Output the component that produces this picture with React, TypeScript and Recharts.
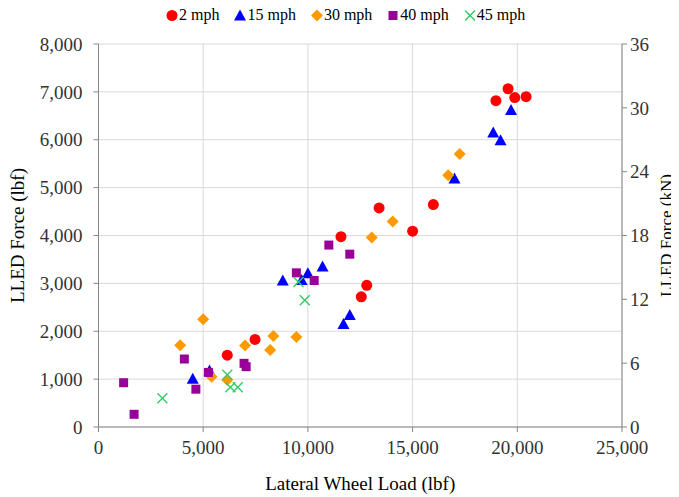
import React from 'react'
import { CartesianGrid, Scatter, ScatterChart, XAxis, YAxis } from 'recharts'

// series labels and colours
const seriesNames = ['2 mph', '15 mph', '30 mph', '40 mph', '45 mph']
const seriesColors = ['#FF0000', '#0000FF', '#FF9900', '#990099', '#33CC66']

// lateral wheel load (lbf) and LLED force (lbf)
const mph2Load = [6150, 7475, 11580, 13400, 12550, 12810, 15000, 15990, 18980, 19560, 19880, 20420]
const mph2Force = [1500, 1830, 3975, 4575, 2720, 2960, 4090, 4645, 6815, 7065, 6880, 6900]

const mph15Load = [4500, 5300, 8800, 9700, 10000, 10700, 11700, 12000, 17000, 18850, 19200, 19700]
const mph15Force = [1010, 1180, 3060, 3070, 3210, 3350, 2150, 2340, 5190, 6150, 5990, 6620]

const mph30Load = [3900, 5000, 5400, 6150, 7000, 8200, 8350, 9450, 13050, 14050, 16700, 17250]
const mph30Force = [1710, 2250, 1050, 980, 1700, 1610, 1900, 1880, 3960, 4290, 5260, 5700]

const mph40Load = [1200, 1700, 4100, 4650, 5250, 6950, 7050, 9450, 10300, 11000, 12000]
const mph40Force = [925, 265, 1420, 790, 1140, 1330, 1260, 3220, 3060, 3800, 3610]

const mph45Load = [3050, 6150, 6300, 6650, 9550, 9850]
const mph45Force = [600, 1090, 830, 830, 3030, 2650]

const xTicks = [0, 5000, 10000, 15000, 20000, 25000]
const yTicks = [0, 1000, 2000, 3000, 4000, 5000, 6000, 7000, 8000]
const kNTicks = [0, 6, 12, 18, 24, 30, 36]

const LBF_TO_KN = 0.00444822

const zip = (xs: number[], ys: number[]) => xs.map((x, i) => ({ x, y: ys[i] }))

const seriesData = [
  zip(mph2Load, mph2Force),
  zip(mph15Load, mph15Force),
  zip(mph30Load, mph30Force),
  zip(mph40Load, mph40Force),
  zip(mph45Load, mph45Force),
]

// same points in kN, only used to carry the secondary axis
const kNData = seriesData.flat().map((d) => ({ x: d.x, y: d.y * LBF_TO_KN }))

const FONT = '"Liberation Serif", "Times New Roman", serif'

// marker drawing, one per series
const marker = (kind: number, cx: number, cy: number, color: string) => {
  switch (kind) {
    case 0:
      return <circle cx={cx} cy={cy} r={5.5} fill={color} />
    case 1:
      return <polygon points={`${cx},${cy - 6} ${cx + 6},${cy + 5} ${cx - 6},${cy + 5}`} fill={color} />
    case 2:
      return <polygon points={`${cx},${cy - 6} ${cx + 6},${cy} ${cx},${cy + 6} ${cx - 6},${cy}`} fill={color} />
    case 3:
      return <rect x={cx - 4.5} y={cy - 4.5} width={9} height={9} fill={color} />
    default:
      return (
        <g stroke={color} strokeWidth={1.4}>
          <line x1={cx - 5} y1={cy - 5} x2={cx + 5} y2={cy + 5} />
          <line x1={cx - 5} y1={cy + 5} x2={cx + 5} y2={cy - 5} />
        </g>
      )
  }
}

const Legend = () => (
  <div
    style={{
      position: 'absolute',
      top: -2,
      left: 158,
      display: 'flex',
      fontFamily: FONT,
      fontSize: 16,
      lineHeight: '18px',
      color: '#000',
    }}
  >
    {seriesNames.map((name, i) => (
      <div key={name} style={{ display: 'flex', alignItems: 'center', marginRight: 15 }}>
        <svg width={12} height={12} style={{ marginRight: 1 }}>
          {marker(i, 6, 6.5, seriesColors[i])}
        </svg>
        <span>{name}</span>
      </div>
    ))}
  </div>
)

// serif tick labels (tick prop objects don't carry the font through)
const makeTick = (dy: string, comma: boolean) => (props: any) => {
  const { x, y, payload, textAnchor } = props
  const v = payload.value as number
  return (
    <text
      x={x}
      y={y}
      dy={dy}
      textAnchor={textAnchor}
      fontFamily={FONT}
      fontSize={19}
      fill='#333'
    >
      {comma ? v.toLocaleString('en-US') : String(v)}
    </text>
  )
}

const LeftTitle = (props: any) => {
  const { viewBox } = props
  const cy = viewBox.y + viewBox.height / 2
  const x = 15.5
  return (
    <text
      x={x}
      y={cy}
      transform={`rotate(-90, ${x}, ${cy})`}
      textAnchor='middle'
      fontFamily={FONT}
      fontSize={19}
      fill='#000'
    >
      LLED Force (lbf)
    </text>
  )
}

const RightTitle = (props: any) => {
  const { viewBox } = props
  const cy = viewBox.y + viewBox.height / 2
  const x = 664
  return (
    <text
      x={x}
      y={cy}
      transform={`rotate(-90, ${x}, ${cy})`}
      textAnchor='middle'
      fontFamily={FONT}
      fontSize={17}
      fill='#000'
    >
      LLED Force (kN)
    </text>
  )
}

export default function App() {
  return (
    <div style={{ position: 'relative', width: 671, height: 489, fontFamily: FONT }}>
      <ScatterChart width={671} height={489} margin={{ top: 36, right: 0, bottom: 0, left: 0 }}>
        <CartesianGrid stroke='#D9D9D9' strokeWidth={1} />
        <XAxis
          type='number'
          dataKey='x'
          domain={[0, 25000]}
          ticks={xTicks}
          height={70}
          stroke='#868686'
          tick={makeTick('0.71em', true)}
          tickSize={5}
          tickMargin={9}
          label={{
            value: 'Lateral Wheel Load (lbf)',
            position: 'insideBottom',
            offset: 7,
            style: { fontFamily: FONT, fontSize: 19, fill: '#000' },
          }}
        />
        <YAxis
          type='number'
          dataKey='y'
          domain={[0, 8000]}
          ticks={yTicks}
          width={90.5}
          stroke='#868686'
          tick={makeTick('0.355em', true)}
          tickSize={5}
          tickMargin={11}
          label={<LeftTitle />}
        />
        <YAxis
          yAxisId='right'
          orientation='right'
          type='number'
          dataKey='y'
          domain={[0, 36]}
          ticks={kNTicks}
          width={57}
          stroke='#868686'
          tick={makeTick('0.355em', false)}
          tickSize={5}
          tickMargin={3}
          label={<RightTitle />}
        />
        {seriesData.map((data, i) => (
          <Scatter
            key={seriesNames[i]}
            name={seriesNames[i]}
            data={data}
            fill={seriesColors[i]}
            isAnimationActive={false}
            shape={(p: any) => marker(i, p.cx, p.cy, seriesColors[i])}
          />
        ))}
        <Scatter
          yAxisId='right'
          data={kNData}
          isAnimationActive={false}
          legendType='none'
          shape={() => <g />}
        />
      </ScatterChart>
      <Legend />
    </div>
  )
}
